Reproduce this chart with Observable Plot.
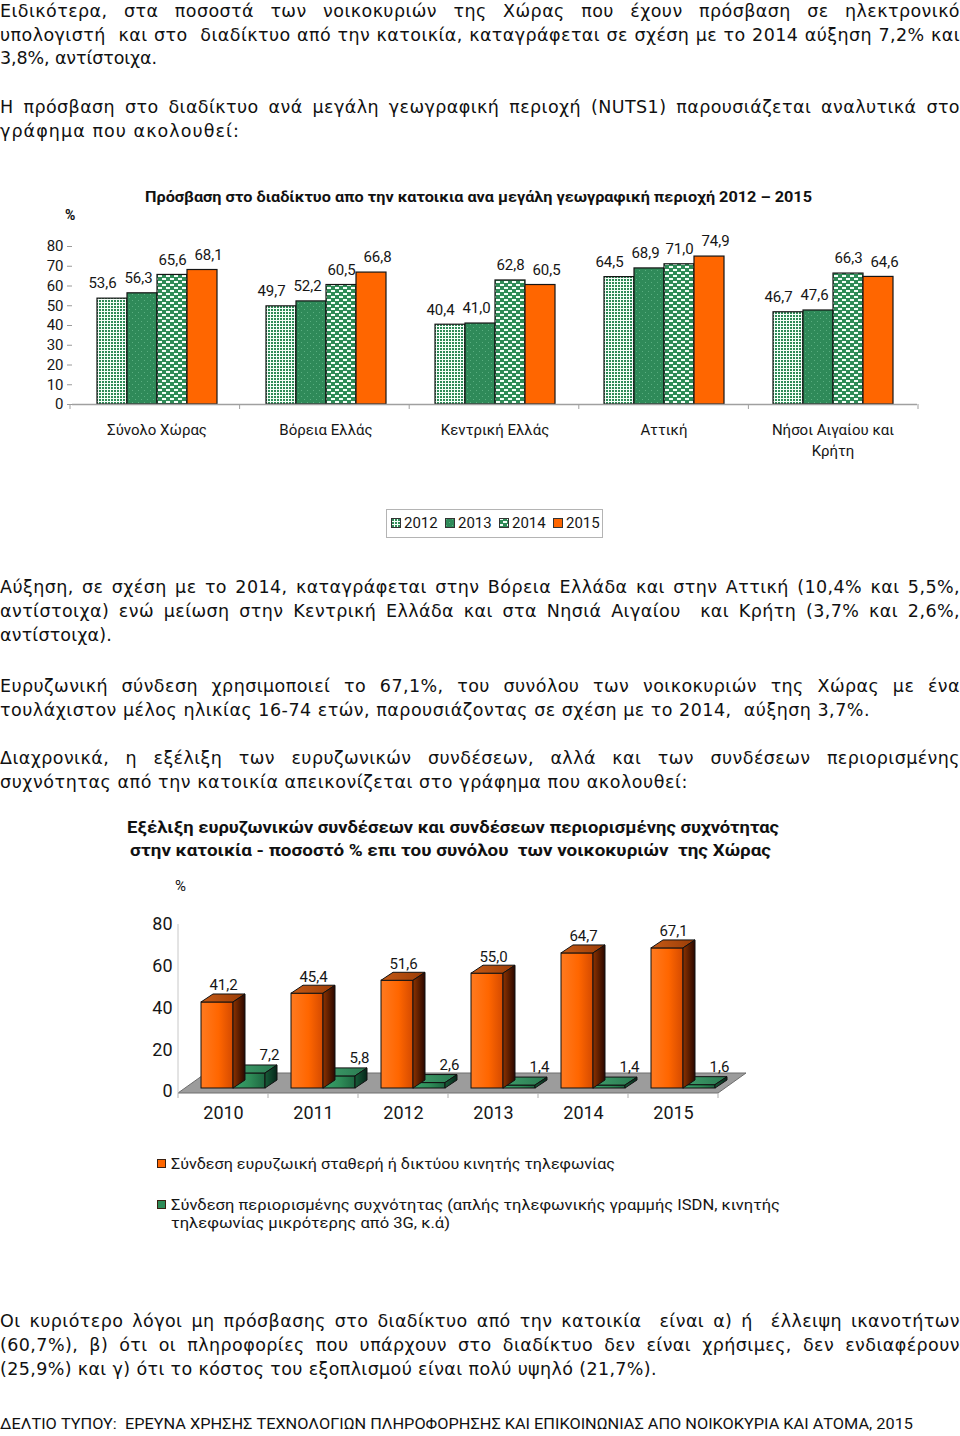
<!DOCTYPE html>
<html lang="el"><head><meta charset="utf-8">
<script src="https://cdn.jsdelivr.net/npm/d3@7"></script>
<script src="https://cdn.jsdelivr.net/npm/@observablehq/plot@0.6"></script>
<style>
html,body{margin:0;padding:0;background:#fff;}
#page{position:relative;width:960px;height:1436px;overflow:hidden;font-family:Roboto,"Noto Sans","DejaVu Sans",sans-serif;color:#111;}
#page svg{display:block;}
</style></head><body>
<div id="page">
<svg width="0" height="0" style="position:absolute;left:0;top:0">
<defs>
  <pattern id="p2012" width="3" height="3" patternUnits="userSpaceOnUse">
    <rect width="3" height="3" fill="#2e8b57"/><rect width="3" height="1" fill="#f4fff8"/><rect width="1" height="3" fill="#f4fff8"/>
  </pattern>
  <pattern id="p2013" width="6" height="6" patternUnits="userSpaceOnUse">
    <rect width="6" height="6" fill="#2f8a59"/><rect x="1" y="1" width="1" height="1" fill="#5aae80"/><rect x="4" y="4" width="1" height="1" fill="#5aae80"/>
  </pattern>
  <pattern id="p2014" width="8" height="6" patternUnits="userSpaceOnUse">
    <rect width="8" height="6" fill="#2e8b57"/><rect x="0" y="0" width="4" height="2" fill="#f4fff8"/><rect x="4" y="3" width="4" height="2" fill="#f4fff8"/>
  </pattern>
  <linearGradient id="gOF" x1="0" x2="1" y1="0" y2="0"><stop offset="0" stop-color="#ff7a20"/><stop offset="0.55" stop-color="#ff6600"/><stop offset="1" stop-color="#d44a00"/></linearGradient>
  <linearGradient id="gOS" x1="0" x2="1" y1="0" y2="0"><stop offset="0" stop-color="#8c3200"/><stop offset="1" stop-color="#2a0800"/></linearGradient>
  <linearGradient id="gOT" x1="0" x2="1" y1="0" y2="0"><stop offset="0" stop-color="#c55a16"/><stop offset="1" stop-color="#9a3c06"/></linearGradient>
  <linearGradient id="gGF" x1="0" x2="1" y1="0" y2="0"><stop offset="0" stop-color="#3aa36c"/><stop offset="0.55" stop-color="#2e8b57"/><stop offset="1" stop-color="#1d6640"/></linearGradient>
  <linearGradient id="gGS" x1="0" x2="1" y1="0" y2="0"><stop offset="0" stop-color="#175c38"/><stop offset="1" stop-color="#06261a"/></linearGradient>
  <linearGradient id="gGT" x1="0" x2="1" y1="0" y2="0"><stop offset="0" stop-color="#3f9d6b"/><stop offset="1" stop-color="#2a7a50"/></linearGradient>
</defs>
</svg>
</div>
<script>
// ---------------- DATA ----------------
const regions = ["Σύνολο Χώρας", "Βόρεια Ελλάς", "Κεντρική Ελλάς", "Αττική", "Νήσοι Αιγαίου και Κρήτη"];
const regionLabels = ["Σύνολο Χώρας", "Βόρεια Ελλάς", "Κεντρική Ελλάς", "Αττική", "Νήσοι Αιγαίου και\nΚρήτη"];
const years1 = ["2012", "2013", "2014", "2015"];
const v2012 = [53.6, 49.7, 40.4, 64.5, 46.7];
const v2013 = [56.3, 52.2, 41.0, 68.9, 47.6];
const v2014 = [65.6, 60.5, 62.8, 71.0, 66.3];
const v2015 = [68.1, 66.8, 60.5, 74.9, 64.6];
const yTicks1 = [0, 10, 20, 30, 40, 50, 60, 70, 80];

const years2 = ["2010", "2011", "2012", "2013", "2014", "2015"];
const broadband = [41.2, 45.4, 51.6, 55.0, 64.7, 67.1];
const narrowband = [7.2, 5.8, 2.6, 1.4, 1.4, 1.6];
const yTicks2 = [0, 20, 40, 60, 80];
const seriesKeys = ["broad", "narrow"];
const legend2Lines = [
  ["Σύνδεση ευρυζωική σταθερή ή δικτύου κινητής τηλεφωνίας"],
  ["Σύνδεση περιορισμένης συχνότητας (απλής τηλεφωνικής γραμμής ISDN, κινητής", "τηλεφωνίας μικρότερης από 3G, κ.ά)"]
];

const title1 = "Πρόσβαση στο διαδίκτυο απο την κατοικια ανα μεγάλη γεωγραφική περιοχή 2012 – 2015";
const title2 = ["Εξέλιξη ευρυζωνικών συνδέσεων και συνδέσεων περιορισμένης συχνότητας",
                "στην κατοικία - ποσοστό % επι του συνόλου  των νοικοκυριών  της Χώρας"];
const footer = "ΔΕΛΤΙΟ ΤΥΠΟΥ:  ΕΡΕΥΝΑ ΧΡΗΣΗΣ ΤΕΧΝΟΛΟΓΙΩΝ ΠΛΗΡΟΦΟΡΗΣΗΣ ΚΑΙ ΕΠΙΚΟΙΝΩΝΙΑΣ ΑΠΟ ΝΟΙΚΟΚΥΡΙΑ ΚΑΙ ΑΤΟΜΑ, 2015";

const bodyLines = [
  {t: "Ειδικότερα, στα ποσοστά των νοικοκυριών της Χώρας που έχουν πρόσβαση σε ηλεκτρονικό", cy: 11, j: true},
  {t: "υπολογιστή  και στο  διαδίκτυο από την κατοικία, καταγράφεται σε σχέση με το 2014 αύξηση 7,2% και", cy: 34.5, j: true},
  {t: "3,8%, αντίστοιχα.", cy: 58, w: 157},
  {t: "Η πρόσβαση στο διαδίκτυο ανά μεγάλη γεωγραφική περιοχή (NUTS1) παρουσιάζεται αναλυτικά στο", cy: 106.5, j: true},
  {t: "γράφημα που ακολουθεί:", cy: 130.5, w: 240},
  {t: "Αύξηση, σε σχέση με το 2014, καταγράφεται στην Βόρεια Ελλάδα και στην Αττική (10,4% και 5,5%,", cy: 587, j: true},
  {t: "αντίστοιχα) ενώ μείωση στην Κεντρική Ελλάδα και στα Νησιά Αιγαίου  και Κρήτη (3,7% και 2,6%,", cy: 611, j: true},
  {t: "αντίστοιχα).", cy: 635, w: 112},
  {t: "Ευρυζωνική σύνδεση χρησιμοποιεί το 67,1%, του συνόλου των νοικοκυριών της Χώρας με ένα", cy: 685.5, j: true},
  {t: "τουλάχιστον μέλος ηλικίας 16-74 ετών, παρουσιάζοντας σε σχέση με το 2014,  αύξηση 3,7%.", cy: 709.5, w: 870},
  {t: "Διαχρονικά, η εξέλιξη των ευρυζωνικών συνδέσεων, αλλά και των συνδέσεων περιορισμένης", cy: 757.5, j: true},
  {t: "συχνότητας από την κατοικία απεικονίζεται στο γράφημα που ακολουθεί:", cy: 781.5, w: 688},
  {t: "Οι κυριότερο λόγοι μη πρόσβασης στο διαδίκτυο από την κατοικία  είναι α) ή  έλλειψη ικανοτήτων", cy: 1320.5, j: true},
  {t: "(60,7%), β) ότι οι πληροφορίες που υπάρχουν στο διαδίκτυο δεν είναι χρήσιμες, δεν ενδιαφέρουν", cy: 1345, j: true},
  {t: "(25,9%) και γ) ότι το κόστος του εξοπλισμού είναι πολύ υψηλό (21,7%).", cy: 1369, w: 657}
];

// ---------------- HELPERS ----------------
const FONT = 'Roboto, "Noto Sans", "DejaVu Sans", sans-serif';
const BODYFONT = '"DejaVu Sans", "Open Sans", sans-serif';
const W = 960;
const page = document.getElementById("page");
const px = v => v + "px";
function mk(css, text, parent) {
  const e = document.createElement("div");
  Object.assign(e.style, {position: "absolute", whiteSpace: "pre"}, css);
  if (text != null) e.textContent = text;
  (parent || page).appendChild(e);
  return e;
}
function fitW(e, target) {
  const w = e.getBoundingClientRect().width;
  if (w > 0) { e.style.transformOrigin = "0 50%"; e.style.transform = `scaleX(${target / w})`; }
}
const fmt = v => v.toFixed(1).replace(".", ",");

// ---------------- BODY TEXT ----------------
const lineEls = bodyLines.map(L => ({L, e: mk({left: "0px", top: px(L.cy - 12), fontFamily: BODYFONT, fontSize: "17.5px", lineHeight: "24px", color: "#111"}, L.t)}));
const lsArr = [];
lineEls.forEach(({L, e}) => {
  if (!L.j) {
    const w = e.getBoundingClientRect().width;
    const ls = (L.w - w) / [...L.t].length;
    e.style.letterSpacing = px(ls);
    lsArr.push(ls);
  }
});
const ls0 = d3.mean(lsArr);
lineEls.forEach(({L, e}) => {
  if (L.j) {
    e.style.letterSpacing = px(ls0);
    const w = e.getBoundingClientRect().width;
    const n = (L.t.match(/ /g) || []).length;
    e.style.wordSpacing = px((W - w) / n);
  }
});
const ft = mk({left: "0px", top: px(1423.5 - 10), fontSize: "15px", lineHeight: "20px", color: "#111"}, footer);
fitW(ft, 913);

// ---------------- CHART 1 ----------------
const t1 = mk({left: "145px", top: px(197 - 10), fontSize: "14px", lineHeight: "20px", fontWeight: "bold", color: "#111"}, title1);
fitW(t1, 667);
mk({left: "65px", top: px(215 - 10), fontSize: "14px", lineHeight: "20px", fontWeight: "bold"}, "%");

const data1 = [];
regions.forEach((r, i) => [v2012, v2013, v2014, v2015].forEach((arr, k) => data1.push({region: r, year: years1[k], value: arr[i]})));
const fills1 = ["url(#p2012)", "url(#p2013)", "url(#p2014)", "#ff6600"];
const labelShift1 = [-10, -4, 0, 6]; // label nudges per series, as in the original layout
const M1 = {top: 16, right: 42, bottom: 60, left: 70}, H1 = 234, TOP1 = 230;

const c1 = Plot.plot({
  width: W, height: H1, marginTop: M1.top, marginRight: M1.right, marginBottom: M1.bottom, marginLeft: M1.left,
  style: {fontFamily: FONT, fontSize: "15px", color: "#161616", background: "transparent", overflow: "visible"},
  fx: {domain: regions, padding: 0, axis: null, label: null},
  x: {domain: years1, paddingInner: 0, paddingOuter: 0.735, axis: null},
  y: {domain: [0, 80], ticks: yTicks1, tickSize: 5, tickPadding: 4, label: null, tickFormat: d => String(d)},
  color: {domain: years1, range: fills1},
  marks: [
    Plot.barY(data1, {fx: "region", x: "year", y: "value", fill: "year", stroke: "#151515", strokeWidth: 1.2}),
    Plot.ruleY([0], {stroke: "#a0a0a0", strokeWidth: 1.5}),
    ...years1.map((yr, k) => Plot.text(data1.filter(d => d.year === yr), {
      fx: "region", x: "year", y: "value", text: d => fmt(d.value), dx: labelShift1[k], dy: -15, fontSize: 15, fill: "#161616"})),
    Plot.text(regions, {fx: d => d, text: (d, i) => regionLabels[i], frameAnchor: "bottom", lineAnchor: "top", dy: 16, fontSize: 15, lineHeight: 1.4, fill: "#161616"})
  ]
});
const w1 = mk({left: "0px", top: px(TOP1)});
w1.appendChild(c1);
function grayTicks(svg, color) {
  svg.querySelectorAll('g[aria-label^="y-axis"]').forEach(g => g.querySelectorAll("line, path").forEach(p => p.setAttribute("stroke", color)));
}
grayTicks(c1, "#9a9a9a");
{
  const y0 = H1 - M1.bottom;
  const step = (W - M1.left - M1.right) / regions.length;
  const s = d3.select(c1);
  d3.range(regions.length + 1).forEach(i => {
    s.append("line").attr("x1", M1.left + i * step).attr("x2", M1.left + i * step)
      .attr("y1", y0).attr("y2", y0 + 5).attr("stroke", "#a0a0a0").attr("stroke-width", 1);
  });
}

// legend 1
const leg1 = mk({left: "386px", top: "509px", width: "217px", height: "29px", border: "1px solid #b4b4b4", boxSizing: "border-box", background: "#fff"});
years1.forEach((y, i) => {
  const sw = document.createElementNS("http://www.w3.org/2000/svg", "svg");
  sw.setAttribute("width", 10); sw.setAttribute("height", 10);
  sw.style.position = "absolute"; sw.style.left = px(4 + i * 54); sw.style.top = "8px";
  sw.innerHTML = `<rect x="0.5" y="0.5" width="9" height="9" fill="${fills1[i]}" stroke="#333" stroke-width="1"/>`;
  leg1.appendChild(sw);
  mk({left: px(17 + i * 54), top: "3px", fontSize: "15px", lineHeight: "20px", color: "#161616"}, y, leg1);
});

// ---------------- CHART 2 ----------------
title2.forEach((t, i) => {
  const e = mk({left: px(i ? 130 : 127), top: px((i ? 850 : 827) - 11), fontSize: "17px", lineHeight: "22px", fontWeight: "bold", color: "#111"}, t);
  fitW(e, i ? 641 : 652);
});
mk({left: "175px", top: px(886 - 10), fontSize: "15px", lineHeight: "20px"}, "%");

const data2 = [];
years2.forEach((y, i) => {
  data2.push({year: y, series: "broad", value: broadband[i]});
  data2.push({year: y, series: "narrow", value: narrowband[i]});
});
const broadData = data2.filter(d => d.series === "broad");
const narrowData = data2.filter(d => d.series === "narrow");
const M2 = {top: 24, right: 242, bottom: 39, left: 178}, H2 = 230, TOP2 = 900;
const LIFT = -3;

const c2 = Plot.plot({
  width: W, height: H2, marginTop: M2.top, marginRight: M2.right, marginBottom: M2.bottom, marginLeft: M2.left,
  style: {fontFamily: FONT, fontSize: "18px", color: "#161616", background: "transparent", overflow: "visible"},
  fx: {domain: years2, padding: 0, axis: null, label: null},
  x: {domain: seriesKeys, paddingInner: 0, paddingOuter: 0.364, align: 0.875, axis: null},
  y: {domain: [0, 80], ticks: yTicks2, tickSize: 0, tickPadding: 6, label: null, tickFormat: d => String(d)},
  color: {domain: seriesKeys, range: ["url(#gOF)", "url(#gGF)"]},
  marks: [
    Plot.barY(narrowData, {fx: "year", x: "series", y: "value", fill: "series", stroke: "#111", strokeWidth: 1, dy: LIFT}),
    Plot.barY(broadData, {fx: "year", x: "series", y: "value", fill: "series", stroke: "#111", strokeWidth: 1, dy: LIFT}),
    Plot.text(narrowData, {fx: "year", x: "series", y: "value", text: d => fmt(d.value), dx: 20, dy: LIFT - 18, fontSize: 15, fill: "#161616"}),
    Plot.text(broadData, {fx: "year", x: "series", y: "value", text: d => fmt(d.value), dx: 6, dy: LIFT - 17, fontSize: 15, fill: "#161616"}),
    Plot.text(years2, {fx: d => d, text: d => d, frameAnchor: "bottom", lineAnchor: "middle", dy: 22, fontSize: 18, fill: "#161616"})
  ]
});
const w2 = mk({left: "0px", top: px(TOP2)});
w2.appendChild(c2);
{
  const s = d3.select(c2);
  const y0 = H2 - M2.bottom;
  const yTop = M2.top;
  const xL = M2.left, xR = W - M2.right;
  const DX = 12, DY = 8; // bar depth
  const faces = {
    "url(#gOF)": {top: "url(#gOT)", side: "url(#gOS)"},
    "url(#gGF)": {top: "url(#gGT)", side: "url(#gGS)"}
  };
  s.selectAll('g[aria-label="bar"] rect').each(function () {
    const r = d3.select(this);
    const x = +r.attr("x"), y = +r.attr("y"), w = +r.attr("width"), h = +r.attr("height");
    const f = faces[r.attr("fill")] || faces["url(#gOF)"];
    const p = d3.select(this.parentNode);
    p.append("polygon").attr("points", [[x, y], [x + DX, y - DY], [x + w + DX, y - DY], [x + w, y]].join(" "))
      .attr("fill", f.top).attr("stroke", "#111").attr("stroke-width", 1).attr("stroke-linejoin", "round");
    p.append("polygon").attr("points", [[x + w, y], [x + w + DX, y - DY], [x + w + DX, y + h - DY], [x + w, y + h]].join(" "))
      .attr("fill", f.side).attr("stroke", "#111").attr("stroke-width", 1).attr("stroke-linejoin", "round");
  });
  let first = c2.querySelector('g[aria-label="bar"]');
  while (first && first.parentNode !== c2) first = first.parentNode;
  const fl = document.createElementNS("http://www.w3.org/2000/svg", "g");
  c2.insertBefore(fl, first);
  const g = d3.select(fl);
  const FF = 2, FB = 18, FD = 28;
  g.append("polygon").attr("points", [[xL, y0 + FF], [xR, y0 + FF], [xR + FD, y0 - FB], [xL + FD, y0 - FB]].join(" "))
    .attr("fill", "#9c9c9c").attr("stroke", "#6e6e6e").attr("stroke-width", 1);
  g.append("line").attr("x1", xL).attr("x2", xL).attr("y1", yTop).attr("y2", y0 + FF).attr("stroke", "#c8c8c8");
  const step = (xR - xL) / years2.length;
  d3.range(years2.length + 1).forEach(i => {
    g.append("line").attr("x1", xL + i * step).attr("x2", xL + i * step).attr("y1", y0 + FF).attr("y2", y0 + FF + 5)
      .attr("stroke", "#b0b0b0");
  });
}

// legend 2
const legCols = ["#ff6600", "#2e8b57"];
const legTops = [1164, 1205];
legend2Lines.forEach((lines, i) => {
  const sw = document.createElementNS("http://www.w3.org/2000/svg", "svg");
  sw.setAttribute("width", 10); sw.setAttribute("height", 10);
  Object.assign(sw.style, {position: "absolute", left: "157px", top: px(legTops[i] - 5)});
  sw.innerHTML = `<rect x="0.5" y="0.5" width="8" height="8" fill="${legCols[i]}" stroke="#3a2010" stroke-width="1"/>`;
  page.appendChild(sw);
  lines.forEach((t, k) => {
    const e = mk({left: "171px", top: px(legTops[i] + k * 18 - 10), fontSize: "15px", lineHeight: "20px", color: "#161616"}, t);
    fitW(e, [[444], [609, 279]][i][k]);
  });
});
</script>
</body></html>
